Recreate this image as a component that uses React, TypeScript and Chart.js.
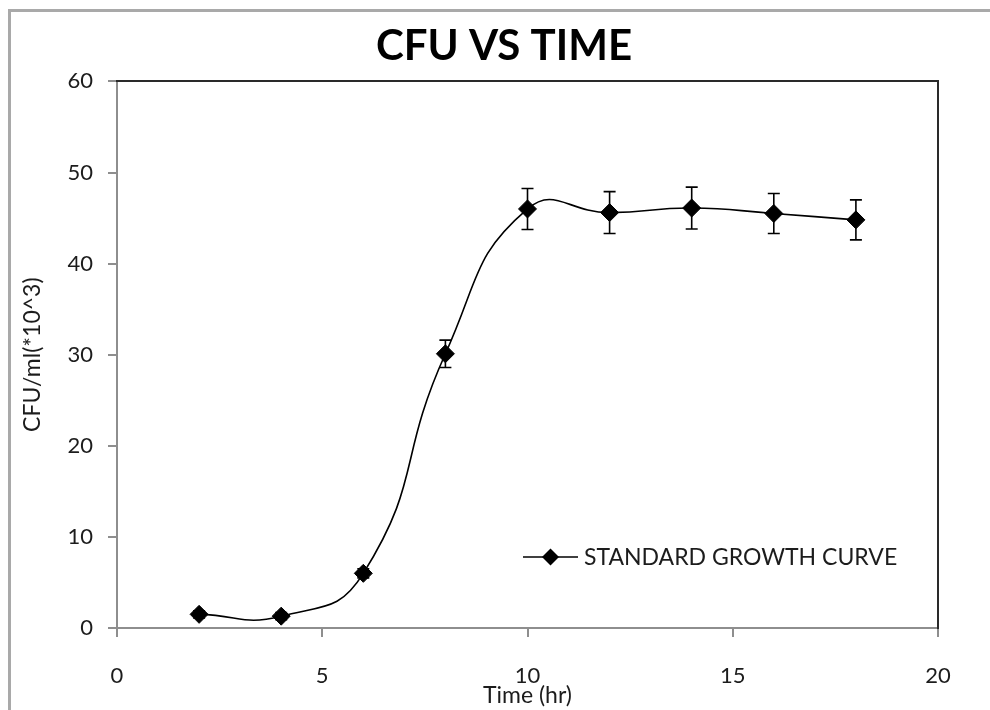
import { useEffect, useRef } from "react";
import { Chart, registerables } from "chart.js";

Chart.register(...registerables);

// Growth curve readings: sampling time (hr), mean CFU/ml (x10^3) and its error
const hours = [2, 4, 6, 8, 10, 12, 14, 16, 18];
const cfu = [1.5, 1.3, 6.0, 30.1, 46.0, 45.6, 46.1, 45.5, 44.8];
const cfuError = [0.4, 0.4, 0.5, 1.5, 2.25, 2.3, 2.3, 2.2, 2.2];

const xTickValues = [0, 5, 10, 15, 20];
const yTickValues = [0, 10, 20, 30, 40, 50, 60];

const chartTitle = "CFU VS TIME";
const seriesLabel = "STANDARD GROWTH CURVE";
const xAxisTitle = "Time (hr)";
const yAxisTitle = "CFU/ml(*10^3)";

const FONT = "Lato, 'Open Sans', sans-serif";
const TEXT = "#1c1c1c";
const AXIS_GRAY = "#8e8e8e";
const FRAME_DARK = "#2a2a2a";

// Vertical error bars with caps, drawn under the line and markers
const errorBars = {
  id: "errorBars",
  beforeDatasetsDraw(chart: any) {
    const { ctx, scales } = chart;
    const x = scales.x;
    const y = scales.y;
    ctx.save();
    ctx.strokeStyle = "#000";
    ctx.lineWidth = 1.6;
    hours.forEach((h, i) => {
      const px = x.getPixelForValue(h);
      const top = y.getPixelForValue(cfu[i] + cfuError[i]);
      const bottom = y.getPixelForValue(cfu[i] - cfuError[i]);
      ctx.beginPath();
      ctx.moveTo(px, top);
      ctx.lineTo(px, bottom);
      ctx.moveTo(px - 6, top);
      ctx.lineTo(px + 6, top);
      ctx.moveTo(px - 6, bottom);
      ctx.lineTo(px + 6, bottom);
      ctx.stroke();
    });
    ctx.restore();
  },
};

// Light gray outer frame along the top and left edges of the chart object
const outerFrame = {
  id: "outerFrame",
  beforeDraw(chart: any) {
    const { ctx, width, height } = chart;
    ctx.save();
    ctx.strokeStyle = "#a9a9a9";
    ctx.lineWidth = 3;
    ctx.beginPath();
    ctx.moveTo(9.5, height);
    ctx.lineTo(9.5, 10.5);
    ctx.lineTo(width, 10.5);
    ctx.stroke();
    ctx.restore();
  },
};

// Series key placed inside the plot, lower right
const insideLegend = {
  id: "insideLegend",
  afterDraw(chart: any) {
    const { ctx, chartArea } = chart;
    const label = chart.data.datasets[0].label;
    const cy = chartArea.bottom - 71;
    const x0 = chartArea.left + 406;
    const x1 = x0 + 55;
    const mx = (x0 + x1) / 2;
    ctx.save();
    ctx.strokeStyle = "#000";
    ctx.lineWidth = 1.6;
    ctx.beginPath();
    ctx.moveTo(x0, cy);
    ctx.lineTo(x1, cy);
    ctx.stroke();
    const r = 8.5;
    ctx.fillStyle = "#000";
    ctx.beginPath();
    ctx.moveTo(mx - r, cy);
    ctx.lineTo(mx, cy - r);
    ctx.lineTo(mx + r, cy);
    ctx.lineTo(mx, cy + r);
    ctx.closePath();
    ctx.fill();
    ctx.font = `23px ${FONT}`;
    ctx.fillStyle = TEXT;
    ctx.textAlign = "left";
    ctx.textBaseline = "middle";
    ctx.fillText(label, x1 + 6, cy + 1);
    ctx.restore();
  },
};

export default function App() {
  const canvasRef = useRef<HTMLCanvasElement | null>(null);

  useEffect(() => {
    const canvas = canvasRef.current;
    if (!canvas) return;

    const chart = new Chart(canvas, {
      type: "line",
      data: {
        datasets: [
          {
            label: seriesLabel,
            data: hours.map((h, i) => ({ x: h, y: cfu[i] })),
            borderColor: "#000",
            borderWidth: 1.6,
            backgroundColor: "#000",
            pointStyle: "rectRot",
            pointRadius: 9,
            pointBorderWidth: 1,
            pointBackgroundColor: "#000",
            pointBorderColor: "#000",
            tension: 0.5,
            fill: false,
          },
        ],
      },
      options: {
        responsive: false,
        animation: false,
        devicePixelRatio: 1,
        layout: { padding: { left: 18, right: 0, top: 0, bottom: 0 } },
        plugins: {
          legend: { display: false },
          tooltip: { enabled: false },
          title: {
            display: true,
            text: chartTitle,
            color: "#000",
            font: { family: FONT, size: 42, weight: "bold" },
            padding: { top: 21, bottom: 10 },
          },
        },
        scales: {
          x: {
            type: "linear",
            position: "bottom",
            min: 0,
            max: 20,
            afterBuildTicks: (s: any) => {
              s.ticks = xTickValues.map((v) => ({ value: v }));
            },
            afterFit: (s: any) => {
              s.height = 82;
            },
            ticks: {
              color: TEXT,
              padding: 26,
              maxRotation: 0,
              font: { family: FONT, size: 22 },
            },
            grid: {
              drawOnChartArea: false,
              drawTicks: true,
              tickLength: 9,
              color: AXIS_GRAY,
              lineWidth: 2,
            },
            border: { color: AXIS_GRAY, width: 2 },
            title: {
              display: true,
              text: xAxisTitle,
              color: TEXT,
              font: { family: FONT, size: 23 },
              padding: { top: 0, bottom: 1 },
            },
          },
          y: {
            type: "linear",
            position: "left",
            min: 0,
            max: 60,
            afterBuildTicks: (s: any) => {
              s.ticks = yTickValues.map((v) => ({ value: v }));
            },
            afterFit: (s: any) => {
              s.width = 99;
            },
            ticks: {
              color: TEXT,
              padding: 15,
              font: { family: FONT, size: 22 },
            },
            grid: {
              drawOnChartArea: false,
              drawTicks: true,
              tickLength: 9,
              color: AXIS_GRAY,
              lineWidth: 2,
            },
            border: { color: AXIS_GRAY, width: 2 },
            title: {
              display: true,
              text: yAxisTitle,
              color: TEXT,
              font: { family: FONT, size: 23 },
              padding: { top: 1, bottom: 0 },
            },
          },
          // plot-area edges on the right and top
          frameRight: {
            type: "linear",
            position: "right",
            display: true,
            ticks: { display: false },
            grid: { display: false, drawTicks: false },
            border: { color: FRAME_DARK, width: 2 },
            afterFit: (s: any) => {
              s.width = 52;
            },
          },
          frameTop: {
            type: "linear",
            position: "top",
            display: true,
            ticks: { display: false },
            grid: { display: false, drawTicks: false },
            border: { color: FRAME_DARK, width: 2 },
            afterFit: (s: any) => {
              s.height = 0;
            },
          },
        },
      },
      plugins: [outerFrame, errorBars, insideLegend],
    } as any);

    return () => {
      chart.destroy();
    };
  }, []);

  return (
    <div style={{ position: "fixed", left: 0, top: 0, width: 990, height: 710, background: "#fff" }}>
      <canvas ref={canvasRef} width={990} height={710} style={{ width: 990, height: 710, display: "block" }} />
    </div>
  );
}
